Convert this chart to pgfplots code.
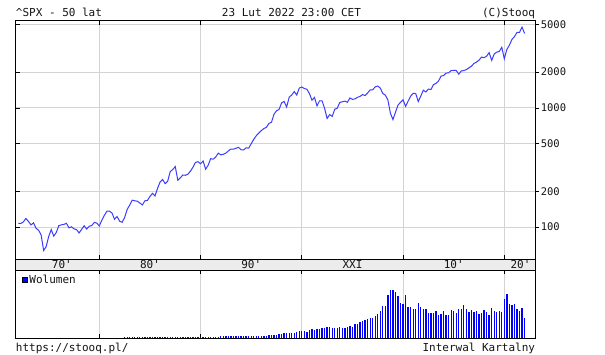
\documentclass[border=0pt]{standalone}
\usepackage{pgfplots}
\pgfplotsset{compat=1.18}
\usepackage{pgfplotstable}
\usepackage{fontspec}
\setmonofont{DejaVu Sans Mono}
\definecolor{linec}{RGB}{60,60,255}
\definecolor{gridc}{RGB}{211,211,211}
\definecolor{bandc}{RGB}{236,236,236}
\definecolor{txt}{RGB}{20,20,20}
\newcommand\F{\fontsize{11}{13}\selectfont\ttfamily}
\newcommand\T{\fontsize{10.5}{12}\selectfont\ttfamily}

\pgfplotstableread{
t v
1972.00 107.20
1972.25 107.14
1972.50 110.55
1972.75 118.05
1973.00 111.52
1973.25 104.26
1973.50 108.43
1973.75 97.55
1974.00 93.98
1974.25 86.00
1974.50 63.54
1974.75 68.56
1975.00 83.36
1975.25 95.19
1975.50 83.87
1975.75 90.19
1976.00 102.77
1976.25 104.28
1976.50 105.24
1976.75 107.46
1977.00 98.42
1977.25 100.48
1977.50 96.53
1977.75 95.10
1978.00 89.21
1978.25 95.53
1978.50 102.54
1978.75 96.11
1979.00 101.59
1979.25 102.91
1979.50 109.32
1979.75 107.94
1980.00 102.09
1980.25 114.24
1980.50 125.46
1980.75 135.76
1981.00 136.00
1981.25 131.21
1981.50 116.18
1981.75 122.55
1982.00 111.96
1982.25 109.61
1982.50 120.42
1982.75 140.64
1983.00 152.96
1983.25 168.11
1983.50 166.07
1983.75 164.93
1984.00 159.18
1984.25 153.18
1984.50 166.10
1984.75 167.24
1985.00 180.66
1985.25 191.85
1985.50 182.08
1985.75 211.28
1986.00 238.90
1986.25 250.84
1986.50 231.32
1986.75 242.17
1987.00 291.70
1987.25 304.00
1987.50 321.83
1987.75 247.08
1988.00 258.89
1988.25 273.50
1988.50 271.91
1988.75 277.72
1989.00 294.87
1989.25 317.98
1989.50 349.15
1989.75 353.40
1990.00 339.94
1990.25 358.02
1990.50 306.05
1990.75 330.22
1991.00 375.22
1991.25 371.16
1991.50 387.86
1991.75 417.09
1992.00 403.69
1992.25 408.14
1992.50 417.80
1992.75 435.71
1993.00 451.67
1993.25 450.53
1993.50 458.93
1993.75 466.45
1994.00 445.77
1994.25 444.27
1994.50 462.69
1994.75 459.27
1995.00 500.71
1995.25 544.75
1995.50 584.41
1995.75 615.93
1996.00 645.50
1996.25 670.63
1996.50 687.31
1996.75 740.74
1997.00 757.12
1997.25 885.14
1997.50 947.28
1997.75 970.43
1998.00 1101.75
1998.25 1133.84
1998.50 1017.01
1998.75 1229.23
1999.00 1286.37
1999.25 1372.71
1999.50 1282.71
1999.75 1469.25
2000.00 1498.58
2000.25 1454.60
2000.50 1436.51
2000.75 1320.28
2001.00 1160.33
2001.25 1224.42
2001.50 1040.94
2001.75 1148.08
2002.00 1147.39
2002.25 989.82
2002.50 815.28
2002.75 879.82
2003.00 848.18
2003.25 974.50
2003.50 995.97
2003.75 1111.92
2004.00 1126.21
2004.25 1140.84
2004.50 1114.58
2004.75 1211.92
2005.00 1180.59
2005.25 1191.33
2005.50 1228.81
2005.75 1248.29
2006.00 1294.83
2006.25 1270.20
2006.50 1335.85
2006.75 1418.30
2007.00 1420.86
2007.25 1503.35
2007.50 1526.75
2007.75 1468.36
2008.00 1322.70
2008.25 1280.00
2008.50 1166.36
2008.75 903.25
2009.00 797.87
2009.25 919.32
2009.50 1057.08
2009.75 1115.10
2010.00 1169.43
2010.25 1030.71
2010.50 1141.20
2010.75 1257.64
2011.00 1325.83
2011.25 1320.64
2011.50 1131.42
2011.75 1257.60
2012.00 1408.47
2012.25 1362.16
2012.50 1440.67
2012.75 1426.19
2013.00 1569.19
2013.25 1606.28
2013.50 1681.55
2013.75 1848.36
2014.00 1872.34
2014.25 1960.23
2014.50 1972.29
2014.75 2058.90
2015.00 2067.89
2015.25 2063.11
2015.50 1920.03
2015.75 2043.94
2016.00 2059.74
2016.25 2098.86
2016.50 2168.27
2016.75 2238.83
2017.00 2362.72
2017.25 2423.41
2017.50 2519.36
2017.75 2673.61
2018.00 2640.87
2018.25 2718.37
2018.50 2913.98
2018.75 2506.85
2019.00 2834.40
2019.25 2941.76
2019.50 2976.74
2019.75 3230.78
2020.00 2584.59
2020.25 3100.29
2020.50 3363.00
2020.75 3756.07
2021.00 3972.89
2021.25 4297.50
2021.50 4307.54
2021.75 4766.18
2022.00 4225.50
}\price

\pgfplotstableread{
t h
1982.50 1.0
1982.75 1.0
1983.00 1.0
1983.25 1.0
1983.50 1.0
1983.75 1.0
1984.00 1.0
1984.25 1.0
1984.50 1.0
1984.75 1.0
1985.00 1.0
1985.25 1.0
1985.50 1.0
1985.75 1.0
1986.00 1.0
1986.25 1.0
1986.50 1.0
1986.75 1.0
1987.00 1.0
1987.25 1.0
1987.50 1.0
1987.75 1.7
1988.00 1.0
1988.25 1.0
1988.50 1.0
1988.75 1.0
1989.00 1.0
1989.25 1.0
1989.50 1.0
1989.75 1.0
1990.00 1.0
1990.25 1.0
1990.50 1.0
1990.75 1.0
1991.00 1.0
1991.25 1.0
1991.50 1.0
1991.75 1.0
1992.00 2.0
1992.25 2.0
1992.50 2.0
1992.75 2.0
1993.00 2.0
1993.25 2.0
1993.50 2.0
1993.75 2.0
1994.00 2.3
1994.25 2.3
1994.50 2.3
1994.75 2.3
1995.00 2.7
1995.25 2.7
1995.50 2.7
1995.75 2.7
1996.00 2.7
1996.25 2.7
1996.50 2.7
1996.75 3.3
1997.00 3.7
1997.25 3.7
1997.50 3.7
1997.75 4.0
1998.00 4.7
1998.25 5.3
1998.50 5.7
1998.75 5.7
1999.00 5.7
1999.25 5.7
1999.50 6.3
1999.75 7.0
2000.00 7.3
2000.25 7.3
2000.50 6.7
2000.75 8.7
2001.00 9.3
2001.25 8.7
2001.50 9.0
2001.75 9.7
2002.00 10.3
2002.25 10.3
2002.50 11.7
2002.75 11.0
2003.00 10.7
2003.25 10.7
2003.50 10.7
2003.75 11.3
2004.00 10.7
2004.25 10.3
2004.50 11.3
2004.75 12.0
2005.00 11.7
2005.25 14.7
2005.50 14.7
2005.75 16.7
2006.00 17.3
2006.25 18.3
2006.50 19.0
2006.75 20.0
2007.00 20.7
2007.25 22.3
2007.50 24.0
2007.75 27.0
2008.00 32.7
2008.25 32.3
2008.50 43.0
2008.75 48.0
2009.00 48.7
2009.25 46.7
2009.50 42.0
2009.75 35.0
2010.00 34.0
2010.25 43.7
2010.50 31.7
2010.75 31.7
2011.00 29.7
2011.25 29.7
2011.50 35.7
2011.75 31.7
2012.00 29.7
2012.25 29.7
2012.50 25.7
2012.75 25.7
2013.00 25.7
2013.25 27.7
2013.50 23.7
2013.75 24.7
2014.00 27.7
2014.25 23.7
2014.50 23.7
2014.75 28.7
2015.00 27.7
2015.25 25.7
2015.50 29.7
2015.75 29.7
2016.00 33.7
2016.25 29.7
2016.50 26.7
2016.75 28.7
2017.00 26.7
2017.25 27.7
2017.50 24.7
2017.75 25.7
2018.00 28.7
2018.25 26.7
2018.50 23.7
2018.75 30.7
2019.00 27.7
2019.25 26.7
2019.50 27.7
2019.75 26.7
2020.00 39.7
2020.25 44.7
2020.50 34.7
2020.75 33.7
2021.00 34.7
2021.25 29.7
2021.50 27.7
2021.75 30.7
2022.00 20.7
}\vol

\begin{document}
\begin{tikzpicture}
\pgfplotsset{
  common/.style={scale only axis, width=519.6pt, xmin=1971.74, xmax=2023.06,
    axis line style={black, line width=1pt},
    tick style={black, line width=0.8pt}, major tick length=4pt},
}
% main price panel
\begin{axis}[common, height=238.3pt, at={(15.7pt,-20.7pt)}, anchor=north west,
  ymode=log, ymin=53.9, ymax=5400,
  xtick={1980,1990,2000,2010,2020}, xticklabels={},
  ytick={100,200,500,1000,2000,5000}, yticklabels={},
  xtick pos=both, ytick pos=left, tick align=inside,
  grid=major, major grid style={gridc, line width=1pt}]
\addplot[linec, line width=1pt, mark=none] table[x=t, y=v] {\price};
\end{axis}
% right tick labels
\begin{axis}[common, height=238.3pt, at={(15.7pt,-20.7pt)}, anchor=north west,
  ymode=log, ymin=53.9, ymax=5400, hide x axis, axis y line*=right,
  ytick={100,200,500,1000,2000,5000}, yticklabels={100,200,500,1000,2000,5000},
  tick align=outside, yticklabel style={font=\T, text=txt, anchor=west, xshift=-2pt}]
\addplot[draw=none] coordinates {(1980,100)};
\end{axis}
% band with decade labels
\begin{axis}[common, height=11pt, at={(15.7pt,-259pt)}, anchor=north west,
  ymin=0, ymax=1, ticks=none, axis background/.style={fill=bandc}]
\addplot[draw=none] coordinates {(1980,0.5)};
\node[font=\F, text=txt] at (axis cs:1976.3,0.5) {70'};
\node[font=\F, text=txt] at (axis cs:1985,0.5) {80'};
\node[font=\F, text=txt] at (axis cs:1995,0.5) {90'};
\node[font=\F, text=txt] at (axis cs:2005,0.5) {XXI};
\node[font=\F, text=txt] at (axis cs:2015,0.5) {10'};
\node[font=\F, text=txt] at (axis cs:2021.6,0.5) {20'};
\end{axis}
% volume panel
\begin{axis}[common, height=68.3pt, at={(15.7pt,-270pt)}, anchor=north west,
  ymin=0, ymax=68.3, ytick=\empty,
  xtick={1980,1990,2000,2010,2020}, xticklabels={},
  xtick pos=both, tick align=inside,
  xmajorgrids, major grid style={gridc, line width=1pt},
  legend style={at={(0,1)}, anchor=north west, xshift=5pt, yshift=-2pt,
    draw=none, fill=none, font=\F, text=txt, inner sep=1pt},
  legend image code/.code={\draw[fill=blue, draw=black, line width=0.5pt] (0pt,-2.5pt) rectangle (5pt,2.5pt);}]
\addplot[ycomb, blue, line width=1.3pt, mark=none] table[x=t, y=h] {\vol};
\addlegendentry{Wolumen}
\end{axis}
\begin{scope}[every node/.style={inner sep=0pt, font=\F, text=txt}]
\node[anchor=base west] at (15.7pt,-16.5pt) {\textasciicircum SPX - 50 lat};
\node[anchor=base west] at (221.7pt,-16.5pt) {23 Lut 2022 23:00 CET};
\node[anchor=base east] at (535.3pt,-16.5pt) {(C)Stooq};
\node[anchor=base west] at (15.7pt,-351pt) {https://stooq.pl/};
\node[anchor=base east] at (535.3pt,-351pt) {Interwal Kartalny};
\end{scope}
\pgfresetboundingbox
\path[use as bounding box] (0,0) rectangle (605pt,-354pt);
\end{tikzpicture}
\end{document}
